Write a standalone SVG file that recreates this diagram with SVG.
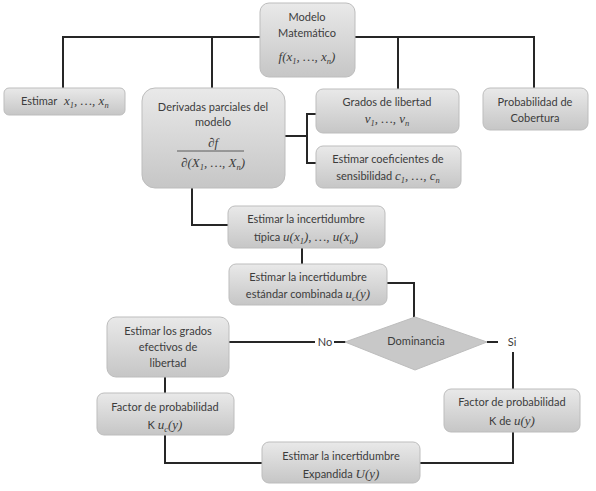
<svg xmlns="http://www.w3.org/2000/svg" width="596" height="491" viewBox="0 0 596 491">
<defs>
<linearGradient id="g" x1="0" y1="0" x2="0" y2="1">
<stop offset="0" stop-color="#e9e9e9"/>
<stop offset="1" stop-color="#c6c6c6"/>
</linearGradient>
<style>
.box{fill:url(#g);stroke:#bdbdbd;stroke-width:1}
.t{font-family:Lato,"Liberation Sans",sans-serif;font-size:11px;fill:#3c3c3c;text-anchor:middle}
.m{font-family:"Liberation Serif",serif;font-style:italic;font-size:13px;fill:#3c3c3c}
.s{font-size:8.5px}
.c{fill:none;stroke:#262626;stroke-width:2}
</style>
</defs>
<rect width="596" height="491" fill="#ffffff"/>
<g id="connectors">
<path class="c" d="M63,88 V37 H534 V88"/>
<path class="c" d="M212,37 V88"/>
<path class="c" d="M398,37 V89"/>
<path class="c" d="M285,136 H307"/>
<path class="c" d="M316,114 H307 V163 H316"/>
<path class="c" d="M192,188 V225 H228"/>
<path class="c" d="M302,248 V264"/>
<path class="c" d="M387,283 H414 V317"/>
<path class="c" d="M229,342 H315"/>
<path class="c" d="M334,342 H346"/>
<path class="c" d="M487,342 H498"/>
<path class="c" d="M513,352 V389"/>
<path class="c" d="M165,377 V393"/>
<path class="c" d="M165,435 V463 H262"/>
<path class="c" d="M420,463 H513 V432"/>
<text class="t" x="325" y="346">No</text>
<text class="t" x="512" y="346">Si</text>
</g>
<g id="modelo">
<rect class="box" x="260" y="3" width="95" height="74" rx="9"/>
<text class="t" x="307" y="21">Modelo</text>
<text class="t" x="307" y="37">Matemático</text>
<text class="m" x="307" y="61" style="text-anchor:middle">f(x<tspan class="s" dy="3">1</tspan><tspan dy="-3">, …, x</tspan><tspan class="s" dy="3">n</tspan><tspan dy="-3">)</tspan></text>
</g>
<g id="estimar-x">
<rect class="box" x="4" y="88" width="121" height="27" rx="5"/>
<text class="t" x="21" y="105" style="text-anchor:start">Estimar</text>
<text class="m" x="64" y="105">x<tspan class="s" dy="3">1</tspan><tspan dy="-3">, …, x</tspan><tspan class="s" dy="3">n</tspan></text>
</g>
<g id="derivadas">
<rect class="box" x="142" y="88" width="143" height="100" rx="13"/>
<text class="t" x="213" y="111">Derivadas parciales del</text>
<text class="t" x="213" y="126">modelo</text>
<text class="m" x="213" y="147" style="text-anchor:middle">∂f</text>
<line x1="177" y1="151" x2="244" y2="151" stroke="#3c3c3c" stroke-width="0.8"/>
<text class="m" x="213" y="167" style="text-anchor:middle">∂(X<tspan class="s" dy="3">1</tspan><tspan dy="-3">, …, X</tspan><tspan class="s" dy="3">n</tspan><tspan dy="-3">)</tspan></text>
</g>
<g id="grados">
<rect class="box" x="316" y="89" width="143" height="44" rx="7"/>
<text class="t" x="387" y="106">Grados de libertad</text>
<text class="m" x="387" y="123" style="text-anchor:middle">v<tspan class="s" dy="3">1</tspan><tspan dy="-3">, …, v</tspan><tspan class="s" dy="3">n</tspan></text>
</g>
<g id="coeficientes">
<rect class="box" x="316" y="146" width="145" height="42" rx="7"/>
<text class="t" x="388" y="163">Estimar coeficientes de</text>
<text class="t" x="388" y="180">sensibilidad <tspan class="m">c</tspan><tspan class="m s" dy="3">1</tspan><tspan class="m" dy="-3">, …, c</tspan><tspan class="m s" dy="3">n</tspan></text>
</g>
<g id="cobertura">
<rect class="box" x="483" y="88" width="105" height="42" rx="7"/>
<text class="t" x="535" y="106">Probabilidad de</text>
<text class="t" x="535" y="122">Cobertura</text>
</g>
<g id="tipica">
<rect class="box" x="228" y="206" width="157" height="42" rx="7"/>
<text class="t" x="306" y="223">Estimar la incertidumbre</text>
<text class="t" x="306" y="241">típica <tspan class="m">u(x</tspan><tspan class="m s" dy="3">1</tspan><tspan class="m" dy="-3">), …, u(x</tspan><tspan class="m s" dy="3">n</tspan><tspan class="m" dy="-3">)</tspan></text>
</g>
<g id="combinada">
<rect class="box" x="229" y="264" width="158" height="41" rx="7"/>
<text class="t" x="308" y="281">Estimar la incertidumbre</text>
<text class="t" x="308" y="298">estándar combinada <tspan class="m">u</tspan><tspan class="m s" dy="3">c</tspan><tspan class="m" dy="-3">(y)</tspan></text>
</g>
<g id="dominancia">
<polygon points="415,317 487,342 415,370 345,342" fill="#c8c8c8" stroke="#bdbdbd" stroke-width="1"/>
<text class="t" x="416" y="345">Dominancia</text>
</g>
<g id="efectivos">
<rect class="box" x="107" y="317" width="122" height="60" rx="9"/>
<text class="t" x="168" y="335">Estimar los grados</text>
<text class="t" x="168" y="351">efectivos de</text>
<text class="t" x="168" y="367">libertad</text>
</g>
<g id="factor-izq">
<rect class="box" x="97" y="393" width="137" height="42" rx="7"/>
<text class="t" x="165" y="411">Factor de probabilidad</text>
<text class="t" x="165" y="429">K  <tspan class="m">u</tspan><tspan class="m s" dy="3">c</tspan><tspan class="m" dy="-3">(y)</tspan></text>
</g>
<g id="factor-der">
<rect class="box" x="444" y="389" width="136" height="43" rx="7"/>
<text class="t" x="512" y="406">Factor de probabilidad</text>
<text class="t" x="512" y="425">K  de <tspan class="m">u(y)</tspan></text>
</g>
<g id="expandida">
<rect class="box" x="262" y="442" width="158" height="41" rx="7"/>
<text class="t" x="341" y="460">Estimar la incertidumbre</text>
<text class="t" x="341" y="478">Expandida <tspan class="m">U(y)</tspan></text>
</g>
</svg>
